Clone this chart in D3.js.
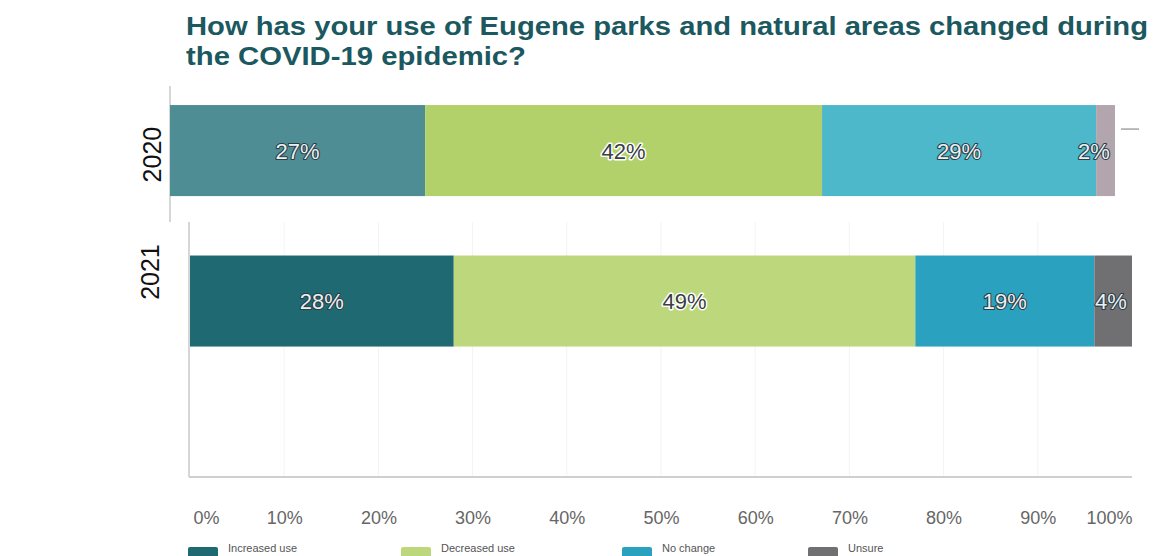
<!DOCTYPE html>
<html>
<head>
<meta charset="utf-8">
<script src="https://cdn.jsdelivr.net/npm/d3@7"></script>
<style>
  html, body { margin: 0; padding: 0; background: #ffffff; }
  svg { display: block; }
</style>
</head>
<body>
<svg id="chart" width="1154" height="556"></svg>
<script>
// ---- data ----
const years = ["2020", "2021"];
const categories = ["Increased use", "Decreased use", "No change", "Unsure"];
const values2020 = [27, 42, 29, 2];
const values2021 = [28, 49, 19, 4];
const tickValues = [0, 10, 20, 30, 40, 50, 60, 70, 80, 90, 100];
const titleLines = ["How has your use of Eugene parks and natural areas changed during", "the COVID-19 epidemic?"];

// ---- styles ----
const colors2020 = ["#4f8d95", "#b2d16b", "#4db8ca", "#b3a5ae"];
const colors2021 = ["#1f6a72", "#bdd87c", "#2aa2bf", "#707073"];
const legendColors = colors2021;
const darkSeg = [true, false, true, true];

const svg = d3.select("#chart");

// title
const titleG = svg.append("g");
titleLines.forEach((t, i) => {
  titleG.append("text")
    .attr("x", 186).attr("y", 35 + i * 30)
    .attr("textLength", i === 0 ? 962 : 340)
    .attr("lengthAdjust", "spacingAndGlyphs")
    .attr("font-family", "Liberation Sans, Arial, sans-serif")
    .attr("font-weight", "bold")
    .attr("font-size", 26.5)
    .attr("fill", "#1b5860")
    .text(t);
});

// scales (the two panels were laid out with slightly different widths)
const xScales = {
  "2020": d3.scaleLinear().domain([0, 100]).range([170, 1115]),
  "2021": d3.scaleLinear().domain([0, 100]).range([190, 1132])
};
const y = d3.scaleBand().domain(years).range([90, 361.6]).paddingInner(0.395).paddingOuter(0.1);
const seriesByYear = { "2020": values2020, "2021": values2021 };
const colorsByYear = { "2020": colors2020, "2021": colors2021 };

const x21 = xScales["2021"], x20 = xScales["2020"];
// 2021 gridlines
svg.append("g").selectAll("line").data(tickValues.slice(1, -1)).join("line")
  .attr("x1", d => x21(d)).attr("x2", d => x21(d))
  .attr("y1", 222).attr("y2", 476)
  .attr("stroke", "#f3f3f3").attr("stroke-width", 1);
// 2020 panel left line
svg.append("line").attr("x1", x20(0)).attr("x2", x20(0)).attr("y1", 86).attr("y2", 222)
  .attr("stroke", "#bdbdbd").attr("stroke-width", 1.2);
// 2021 panel left line and baseline
svg.append("line").attr("x1", x21(0) - 1).attr("x2", x21(0) - 1).attr("y1", 222).attr("y2", 477)
  .attr("stroke", "#c8c8c8").attr("stroke-width", 1.5);
svg.append("line").attr("x1", x21(0) - 1).attr("x2", x21(100)).attr("y1", 477).attr("y2", 477)
  .attr("stroke", "#cfcfcf").attr("stroke-width", 2);
// small stray mark at the right of the 2020 bar
svg.append("line").attr("x1", x20(100) + 6).attr("x2", x20(100) + 24)
  .attr("y1", y("2020") + 24).attr("y2", y("2020") + 24)
  .attr("stroke", "#777").attr("stroke-width", 1);

// bars
years.forEach(yr => {
  const x = xScales[yr];
  const vals = seriesByYear[yr];
  let cum = 0;
  const segs = vals.map((v, i) => { const s = { i, v, x0: cum, x1: cum + v }; cum += v; return s; });
  const g = svg.append("g");
  g.selectAll("rect").data(segs).join("rect")
    .attr("x", d => x(d.x0)).attr("width", d => x(d.x1) - x(d.x0))
    .attr("y", y(yr)).attr("height", y.bandwidth())
    .attr("fill", d => colorsByYear[yr][d.i]);
  g.selectAll("text").data(segs).join("text")
    .attr("x", d => Math.min((x(d.x0) + x(d.x1)) / 2, x(d.x1) - 21))
    .attr("y", y(yr) + y.bandwidth() / 2 + 8)
    .attr("text-anchor", "middle")
    .attr("font-family", "Liberation Sans, Arial, sans-serif")
    .attr("font-size", 22)
    .attr("paint-order", "stroke")
    .attr("stroke", d => darkSeg[d.i] ? "#2c3d45" : "#ffffff")
    .attr("stroke-width", d => darkSeg[d.i] ? 2.2 : 3)
    .attr("stroke-linejoin", "round")
    .attr("fill", d => darkSeg[d.i] ? "#e9f0f2" : "#3a3f44")
    .text(d => d.v + "%");
});

// year labels (rotated)
const yearLabelOffset = { "2020": 4, "2021": -29 };
const yearLabelX = { "2020": 152, "2021": 150 };
years.forEach(yr => {
  const cy = y(yr) + y.bandwidth() / 2 + yearLabelOffset[yr];
  svg.append("text")
    .attr("transform", `translate(${yearLabelX[yr] + 9},${cy}) rotate(-90)`)
    .attr("text-anchor", "middle")
    .attr("font-family", "Liberation Sans, Arial, sans-serif")
    .attr("font-size", 25)
    .attr("fill", "#111")
    .text(yr);
});

// x axis
const axis = d3.axisBottom(x21).tickValues(tickValues).tickFormat(d => d + "%").tickSize(0).tickPadding(0);
const axG = svg.append("g").attr("transform", "translate(0,524)").call(axis);
axG.select(".domain").remove();
axG.selectAll("text")
  .attr("dy", 0)
  .attr("font-family", "Liberation Sans, Arial, sans-serif")
  .attr("font-size", 18)
  .attr("fill", "#666")
  .attr("text-anchor", (d, i) => i === 0 ? "start" : (i === tickValues.length - 1 ? "end" : "middle"))
  .attr("dx", (d, i) => i === 0 ? 3 : 0);

// legend (at the bottom edge)
const legendX = [188, 401, 622, 808];
const lg = svg.append("g").selectAll("g").data(categories).join("g")
  .attr("transform", (d, i) => `translate(${legendX[i]},547)`);
lg.append("rect").attr("width", 30).attr("height", 20).attr("rx", 2)
  .attr("fill", (d, i) => legendColors[i]);
lg.append("text").attr("x", 40).attr("y", 5)
  .attr("font-family", "Liberation Sans, Arial, sans-serif")
  .attr("font-size", 11).attr("fill", "#555")
  .text(d => d);
</script>
</body>
</html>
